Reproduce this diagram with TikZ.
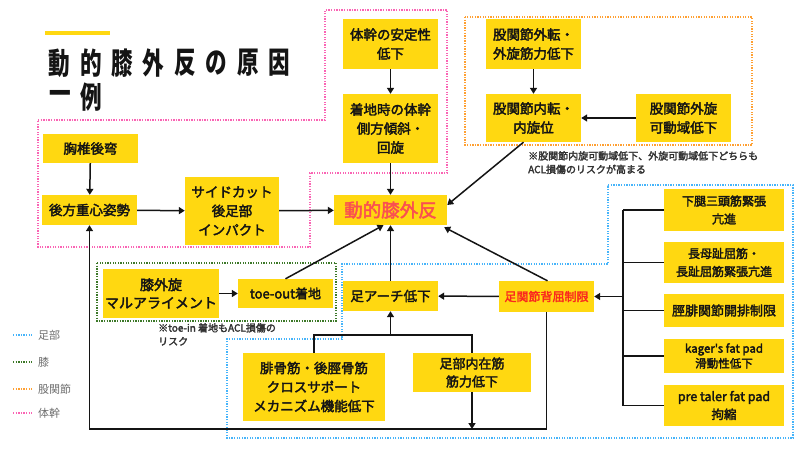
\documentclass[tikz,border=0pt]{standalone}
\usepackage{fontspec}
\usepackage{graphicx}
\setmainfont{Noto Sans CJK JP}
\newfontfamily\jpm{Noto Sans CJK JP}[FakeBold=2.5]
\usetikzlibrary{arrows.meta}
\definecolor{ybox}{RGB}{255,216,17}
\definecolor{ink}{RGB}{20,20,20}
\definecolor{kred}{RGB}{250,80,80}
\definecolor{ared}{RGB}{250,40,30}
\definecolor{zblue}{RGB}{70,180,250}
\definecolor{zgreen}{RGB}{60,120,40}
\definecolor{zorange}{RGB}{255,160,50}
\definecolor{zpink}{RGB}{250,100,180}
\definecolor{note}{RGB}{50,50,50}
\definecolor{legtxt}{RGB}{110,110,110}
\newcommand{\mytitlechar}[1]{\scalebox{0.72}[1]{\bfseries\fontsize{30}{30}\selectfont #1}}
\begin{document}
\begin{tikzpicture}[x=1pt,y=-1pt,
  box/.style={fill=ybox, inner sep=0pt, align=center, text=ink,
    font=\jpm\fontsize{13.5}{19}\selectfont},
  rbox/.style={box, minimum width=120pt, font=\jpm\fontsize{12}{18}\selectfont},
  arr/.style={draw=ink, line width=1.5pt, -{Triangle[length=6pt,width=7pt]}},
  ln/.style={draw=ink, line width=1.5pt},
  zone/.style={line width=1.5pt, dash pattern=on 1.3pt off 1.3pt},
  notetxt/.style={anchor=north west, align=left, inner sep=0pt, text=note,
    font=\jpm\fontsize{10}{13.5}\selectfont},
  legend/.style={anchor=west, inner sep=0pt, text=legtxt, font=\fontsize{11}{13}\selectfont}]
\useasboundingbox[fill=white] (0,0) rectangle (800,450);

% title
\draw[ybox, line width=4pt] (45,33) -- (110,33);
\foreach \c [count=\i] in {動,的,膝,外,反,の,原,因}
  \node[inner sep=0pt, text=ink] (t\i) at ({28+31.4*\i},63) {\mytitlechar{\c}};
\node[inner sep=0pt, text=ink] (t9) at (60,97) {\mytitlechar{一}};
\node[inner sep=0pt, text=ink] (t10) at (91,97) {\mytitlechar{例}};

% zones
\draw[zone, zpink] (38,120) -- (325,120) -- (325,10) -- (447,10) -- (447,173)
  -- (310,173) -- (310,247) -- (38,247) -- cycle;
\draw[zone, zorange] (465,17) rectangle (752,145);
\draw[zone, zgreen] (97,263) rectangle (336,321);
\draw[zone, zblue] (608,185) -- (793,185) -- (793,438) -- (227,438) -- (227,339)
  -- (342,339) -- (342,264) -- (608,264) -- cycle;

% legend
\draw[zone, zblue] (13,335) -- (32,335);
\draw[zone, zgreen] (13,362) -- (32,362);
\draw[zone, zorange] (13,389) -- (32,389);
\draw[zone, zpink] (13,413) -- (32,413);
\node[legend] (l1) at (38,335) {足部};
\node[legend] (l2) at (38,362) {膝};
\node[legend] (l3) at (38,389) {股関節};
\node[legend] (l4) at (38,413) {体幹};

% boxes
\node[box, minimum width=95pt, minimum height=50pt] (trunk1) at (390.5,44) {体幹の安定性\\低下};
\node[box, minimum width=95pt, minimum height=69pt] (trunk2) at (390.5,128.5) {着地時の体幹\\側方傾斜・\\回旋};
\node[box, minimum width=95pt, minimum height=50pt] (hip1) at (533.5,44) {股関節外転・\\外旋筋力低下};
\node[box, minimum width=95pt, minimum height=48pt] (hip2) at (533.5,118) {股関節内転・\\内旋位};
\node[box, minimum width=95pt, minimum height=48pt] (hip3) at (683.5,118) {股関節外旋\\可動域低下};
\node[box, minimum width=95pt, minimum height=29pt] (thor) at (90.5,148.5) {胸椎後弯};
\node[box, minimum width=95pt, minimum height=30pt] (back) at (89.5,210) {後方重心姿勢};
\node[box, minimum width=94pt, minimum height=68pt] (side) at (232,211) {サイドカット\\後足部\\インパクト};
\node[box, minimum width=113pt, minimum height=30pt, text=kred,
  font=\jpm\fontsize{18.5}{20}\selectfont] (dkv) at (390.5,210) {動的膝外反};
\node[box, minimum width=116pt, minimum height=49pt, font=\jpm\fontsize{14}{18}\selectfont] (knee) at (161,293.5) {膝外旋\\マルアライメント};
\node[box, minimum width=95pt, minimum height=29pt, font=\jpm\fontsize{13}{18}\selectfont] (toe) at (285.5,293.5) {toe-out着地};
\node[box, minimum width=95pt, minimum height=30pt] (arch) at (390.5,296) {足アーチ低下};
\node[box, minimum width=95pt, minimum height=31pt, text=ared,
  font=\jpm\fontsize{12}{16}\selectfont] (ank) at (546.5,296.5) {足関節背屈制限};
\node[box, minimum width=142pt, minimum height=68pt] (fib) at (314,387) {腓骨筋・後脛骨筋\\クロスサポート\\メカニズム機能低下};
\node[box, minimum width=118pt, minimum height=39pt, font=\jpm\fontsize{13}{18}\selectfont] (intr) at (472,372.5) {足部内在筋\\筋力低下};
\node[rbox, minimum height=42pt] (rc1) at (724,210) {下腿三頭筋緊張\\亢進};
\node[rbox, minimum height=41pt] (rc2) at (724,262.5) {長母趾屈筋・\\長趾屈筋緊張亢進};
\node[rbox, minimum height=33pt, font=\jpm\fontsize{13}{18}\selectfont] (rc3) at (724,310.5) {脛腓関節開排制限};
\node[rbox, minimum height=34pt, font=\jpm\fontsize{11.5}{15}\selectfont] (rc4) at (724,356) {kager's fat pad\\滑動性低下};
\node[rbox, minimum height=41pt, font=\jpm\fontsize{12.5}{18}\selectfont] (rc5) at (724,405.5) {pre taler fat pad\\拘縮};

% notes
\node[notetxt] (n1) at (528,151) {※股関節内旋可動域低下、外旋可動域低下どちらも\\ACL損傷のリスクが高まる};
\node[notetxt] (n2) at (158,323) {※toe-in 着地もACL損傷の\\リスク};

% connectors
\draw[arr] (trunk1) -- (trunk2);
\draw[arr] (trunk2) -- (dkv);
\draw[arr] (hip1) -- (hip2);
\draw[arr] (hip3) -- (hip2);
\draw[arr] ([xshift=-10pt]hip2.south) -- ([yshift=5pt]dkv.east);
\draw[arr] (thor) -- (back);
\draw[arr] (back) -- (side);
\draw[arr] (side) -- (dkv);
\draw[arr] (knee) -- (toe);
\draw[arr] (toe.north) -- ([xshift=-7pt]dkv.south);
\draw[arr] (arch) -- (dkv);
\draw[arr] ([xshift=1pt]ank.north) -- ([xshift=-3pt,yshift=-2pt]dkv.south east);
\draw[arr] (ank) -- (arch);

\coordinate (j1) at (390.5,335);
\draw[ln] (fib.north) |- (j1) -| (intr.north);
\draw[arr] (j1) -- (arch.south);

\coordinate (loopy) at (0,429);
\draw[arr] (ank.south) |- (back.south |- loopy) -- (back.south);
\draw[arr] (intr.south) -- (intr.south |- loopy);

\coordinate (brx) at (623,0);
\draw[ln] (brx |- rc1.west) -- (brx |- rc5.west);
\foreach \r in {rc1,rc2,rc3,rc4,rc5}
  \draw[ln] (\r.west) -- (brx |- \r.west);
\draw[arr] (brx |- ank.east) -- (ank.east);
\end{tikzpicture}
\end{document}
